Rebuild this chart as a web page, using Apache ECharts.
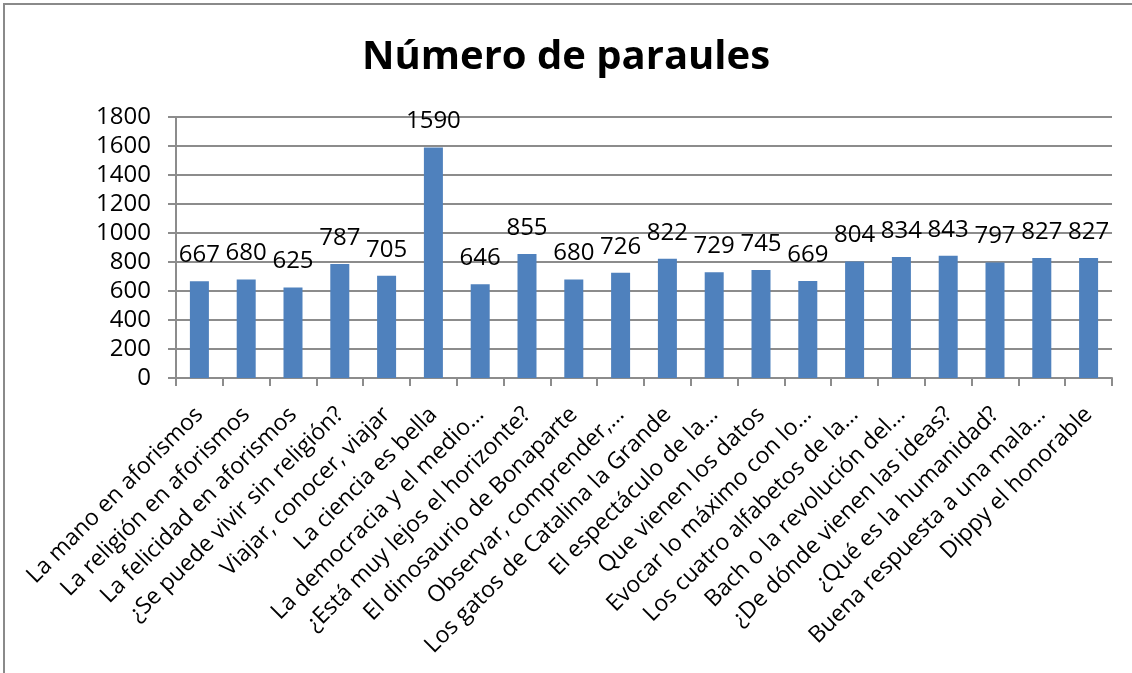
<!DOCTYPE html>
<html>
<head>
<meta charset="utf-8">
<script src="https://cdn.jsdelivr.net/npm/echarts@6/dist/echarts.min.js"></script>
<style>
  html, body { margin: 0; padding: 0; background: #fff; }
  #chart { position: absolute; left: 0; top: 0; width: 1132px; height: 673px; }
  .frame {
    position: absolute; left: 3px; top: 3px; width: 1129px; height: 670px;
    border-top: 2px solid #8a8a8a; border-left: 2px solid #8a8a8a;
    box-sizing: border-box; pointer-events: none;
  }
</style>
</head>
<body>
<div id="chart"></div>
<div class="frame"></div>
<script>
const titleText = 'Número de paraules'
const categories = [
  'La mano en aforismos',
  'La religión en aforismos',
  'La felicidad en aforismos',
  '¿Se puede vivir sin religión?',
  'Viajar, conocer, viajar',
  'La ciencia es bella',
  'La democracia y el medio…',
  '¿Está muy lejos el horizonte?',
  'El dinosaurio de Bonaparte',
  'Observar, comprender,…',
  'Los gatos de Catalina la Grande',
  'El espectáculo de la…',
  'Que vienen los datos',
  'Evocar lo máximo con lo…',
  'Los cuatro alfabetos de la…',
  'Bach o la revolución del…',
  '¿De dónde vienen las ideas?',
  '¿Qué es la humanidad?',
  'Buena respuesta a una mala…',
  'Dippy el honorable'
]
const wordCounts = [667, 680, 625, 787, 705, 1590, 646, 855, 680, 726, 822, 729, 745, 669, 804, 834, 843, 797, 827, 827]
const yMin = 0
const yMax = 1800
const yStep = 200

const font = '"Open Sans", "Noto Sans", sans-serif'
const gray = '#8c8c8c'

let myChart = echarts.init(document.getElementById('chart'), null, {renderer: 'canvas'})
let option = {
  animation: false,
  title: {
    text: titleText,
    left: 'center',
    top: 33,
    textStyle: {
      fontFamily: font,
      fontWeight: 'bold',
      fontSize: 40,
      color: '#000'
    }
  },
  grid: {
    left: 176,
    right: 20,
    top: 117,
    bottom: 295
  },
  xAxis: {
    type: 'category',
    data: categories,
    boundaryGap: true,
    axisLine: {show: true, lineStyle: {color: gray, width: 2}},
    axisTick: {show: true, length: 8, interval: 0, lineStyle: {color: gray, width: 2}},
    axisLabel: {
      interval: 0,
      rotate: 45,
      margin: 33,
      fontFamily: font,
      fontSize: 23,
      color: '#000'
    }
  },
  yAxis: {
    type: 'value',
    min: yMin,
    max: yMax,
    interval: yStep,
    axisLine: {show: true, lineStyle: {color: gray, width: 2}},
    axisTick: {show: true, length: 8, lineStyle: {color: gray, width: 2}},
    splitLine: {show: true, lineStyle: {color: gray, width: 2}},
    axisLabel: {
      margin: 25,
      fontFamily: font,
      fontSize: 24,
      color: '#000',
      formatter: function(v) {
        return String(v)
      }
    }
  },
  series: [{
    type: 'bar',
    data: wordCounts,
    barWidth: 19,
    itemStyle: {color: '#4F81BD'},
    label: {
      show: true,
      position: 'top',
      distance: 14,
      fontFamily: font,
      fontSize: 24,
      color: '#000'
    }
  }]
}
myChart.setOption(option)
</script>
</body>
</html>
